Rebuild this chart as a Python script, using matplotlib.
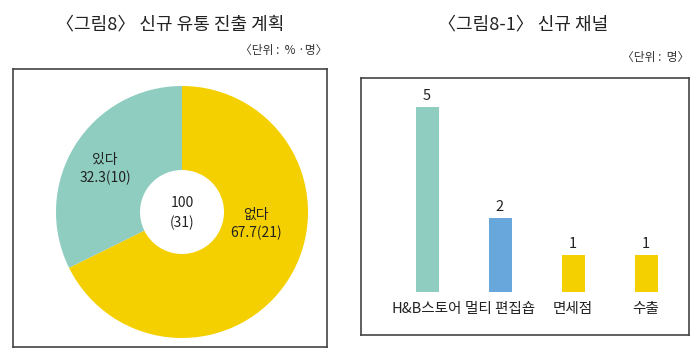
import matplotlib
matplotlib.use("Agg")
import matplotlib.pyplot as plt

plt.rcParams['font.family'] = ['Noto Sans CJK KR', 'DejaVu Sans']

# Data
pie_labels = ['없다', '있다']
pie_pct = [67.7, 32.3]
pie_counts = [21, 10]
total_pct = 100
total_count = 31

bar_categories = ['H&B스토어', '멀티 편집숍', '면세점', '수출']
bar_values = [5, 2, 1, 1]

TEAL = '#8ECDC0'
YELLOW = '#F5D000'
BLUE = '#67A7DB'
TEXT = '#222222'
EDGE = '#444444'

W, H = 700, 357
fig = plt.figure(figsize=(7, 3.57), dpi=100)

def ax_px(x0, y0, x1, y1):
    return fig.add_axes([x0 / W, 1 - y1 / H, (x1 - x0) / W, (y1 - y0) / H])

# Titles
fig.text(170 / W, 1 - 24 / H, '〈그림8〉 신규 유통 진출 계획', ha='center', va='center',
         fontsize=13, color=TEXT)
fig.text(523 / W, 1 - 24 / H, '〈그림8-1〉 신규 채널', ha='center', va='center',
         fontsize=13, color=TEXT)
fig.text(327 / W, 1 - 50 / H, '〈단위 :  % ·명〉', ha='right', va='center',
         fontsize=8.5, color='#333333')
fig.text(689 / W, 1 - 57 / H, '〈단위 :  명〉', ha='right', va='center',
         fontsize=8.5, color='#333333')

# Donut
bx0, by0, bx1, by1 = 13, 69, 327, 347
cx, cy, r = 182, 212, 126
ax1 = ax_px(bx0, by0, bx1, by1)
wedges, _ = ax1.pie(pie_pct, colors=[YELLOW, TEAL], startangle=90, counterclock=False,
                    radius=1, wedgeprops=dict(width=1 - 42 / 126, linewidth=0))
ax1.set_aspect('auto')
ax1.set_xlim((bx0 - cx) / r, (bx1 - cx) / r)
ax1.set_ylim((cy - by1) / r, (cy - by0) / r)
ax1.set_xticks([]); ax1.set_yticks([])
ax1.set_frame_on(True)
for s in ax1.spines.values():
    s.set_visible(True)
    s.set_edgecolor(EDGE)
    s.set_linewidth(1.2)

def d(px, py):
    return ((px - cx) / r, (cy - py) / r)

ax1.text(*d(182, 203), f'{total_pct}', ha='center', va='center', fontsize=10, color=TEXT)
ax1.text(*d(182, 223), f'({total_count})', ha='center', va='center', fontsize=10, color=TEXT)
label_pos = {'없다': (256, 215), '있다': (105, 160)}
for lab, p, c in zip(pie_labels, pie_pct, pie_counts):
    px, py = label_pos[lab]
    ax1.text(*d(px, py), lab, ha='center', va='center', fontsize=10, color=TEXT)
    ax1.text(*d(px, py + 18), f'{p}({c})', ha='center', va='center', fontsize=10, color=TEXT)

# Bars
rx0, ry0, rx1, ry1 = 361, 78, 689, 335
x0c, sp = 427, 73
ybase, unit = 292, 37
ax2 = ax_px(rx0, ry0, rx1, ry1)
xs = list(range(len(bar_values)))
ax2.bar(xs, bar_values, width=23 / sp, color=[TEAL, BLUE, YELLOW, YELLOW], linewidth=0)
ax2.set_xlim((rx0 - x0c) / sp, (rx1 - x0c) / sp)
ax2.set_ylim((ybase - ry1) / unit, (ybase - ry0) / unit)
ax2.set_xticks([]); ax2.set_yticks([])
for s in ax2.spines.values():
    s.set_edgecolor(EDGE)
    s.set_linewidth(1.2)
for x, v in zip(xs, bar_values):
    ax2.text(x, v + 0.1, str(v), ha='center', va='bottom', fontsize=10.5, color=TEXT)
for x, c in zip(xs, bar_categories):
    ax2.text(x, (ybase - 309) / unit, c, ha='center', va='center', fontsize=10.5, color=TEXT)

fig.savefig('out.png', dpi=100)
